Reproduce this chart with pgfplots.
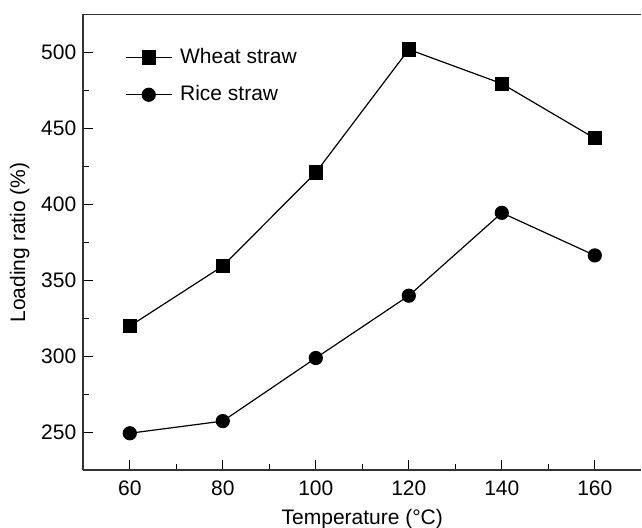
\documentclass[border=0pt]{standalone}
\usepackage{fontspec}
\setmainfont{Liberation Sans}
\usepackage{pgfplots}
\pgfplotsset{compat=1.18}

\pgfplotstableread{
temp wheat rice
60  320   249.5
80  359.5 257.5
100 421   299
120 502   340
140 479.5 394.5
160 443.5 366.5
}\loading

\newcommand{\lbl}{\fontsize{10.5}{12.6}\selectfont}

\begin{document}
\begin{tikzpicture}
\begin{axis}[
    scale only axis,
    width=279pt, height=228pt,
    xmin=50, xmax=170, ymin=225, ymax=525,
    xtick={60,80,100,120,140,160},
    ytick={250,300,350,400,450,500},
    minor tick num=1,
    axis x line*=bottom, axis y line*=left,
    axis line style={-, line width=1pt, black!80},
    tick align=inside,
    major tick length=5pt, minor tick length=3pt,
    tick style={black, line width=0.6pt},
    tick label style={font=\lbl},
    /pgf/number format/assume math mode=true,
    xticklabel style={yshift=-1.5pt},
    xlabel={Temperature (°C)},
    ylabel={Loading ratio (\%)},
    every axis x label/.style={at={(axis description cs:0.5,0)}, anchor=north, yshift=-19pt, inner sep=0pt, font=\lbl},
    every axis y label/.style={at={(axis description cs:-0.1142,0.5)}, rotate=90, anchor=center, inner sep=0pt, font=\lbl},
    legend style={at={(axis description cs:0.064,0.944)}, anchor=north west, draw=none, fill=none, font=\lbl, row sep=5.5pt, column sep=2pt},
    legend cell align=left,
    legend image code/.code={
        \draw[#1, mark repeat=2, mark phase=2] plot coordinates {(0cm,0cm) (0.4cm,0cm) (0.8cm,0cm)};
    },
]
\draw[line width=1pt, black!80] (rel axis cs:0,1) -- (rel axis cs:1,1);
\addplot[black, line width=0.6pt, mark=square*, mark size=3.25pt] table[x=temp, y=wheat] {\loading};
\addlegendentry{Wheat straw}
\addplot[black, line width=0.6pt, mark=*, mark size=3.25pt] table[x=temp, y=rice] {\loading};
\addlegendentry{Rice straw}
\end{axis}
\pgfresetboundingbox
\path (-41.65pt,-28.75pt) rectangle (279.35pt,235.25pt);
\end{tikzpicture}
\end{document}
